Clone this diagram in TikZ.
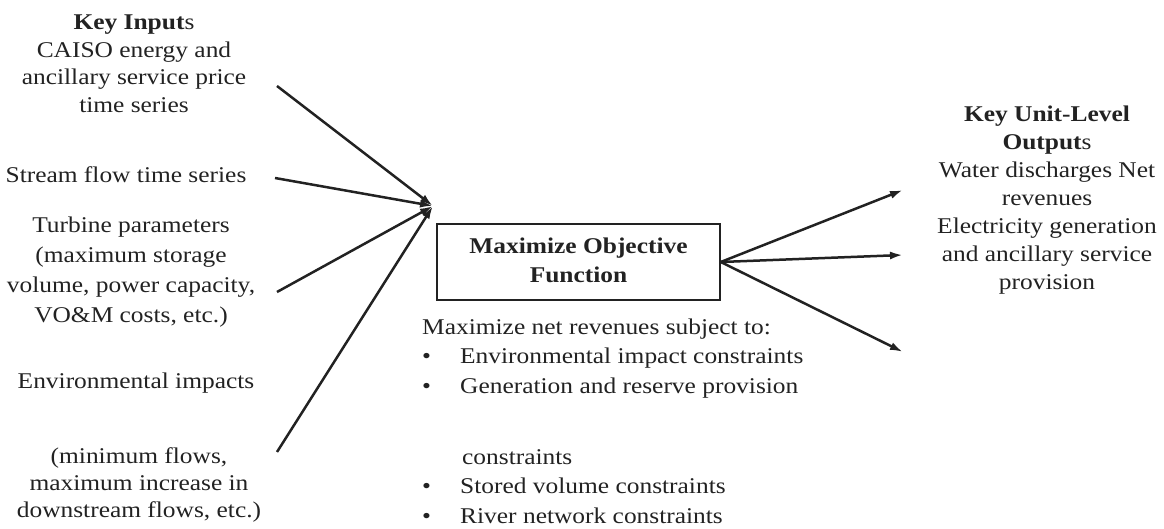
\documentclass[tikz,border=0pt]{standalone}
\usepackage{fontspec}
\setmainfont{Liberation Serif}[FakeStretch=1.13]
\usetikzlibrary{arrows.meta}
\definecolor{ink}{HTML}{222222}
\begin{document}
\begin{tikzpicture}[x=1pt,y=-1pt,
  txt/.style={inner sep=0pt, anchor=base, text=ink, font=\fontsize{22.5}{27.5}\selectfont},
  conn/.style={draw=ink, line width=2.5pt, -{Latex[length=13pt,width=8pt]}},
  objbox/.style={draw=ink, line width=1.5pt, minimum width=283pt, minimum height=76pt, inner sep=0pt, text=ink, font=\fontsize{22.5}{29}\selectfont\bfseries}
]
\useasboundingbox (0,0) rectangle (1164,529);

% left inputs
\node[txt] (inputs) at (134,30) {\begin{tabular}[t]{@{}c@{}}\textbf{Key Input}s\\CAISO energy and\\ancillary service price\\time series\end{tabular}};
\node[txt] (stream) at (126,183) {Stream flow time series};
\node[txt, font=\fontsize{22.5}{30}\selectfont] (turbine) at (131,233) {\begin{tabular}[t]{@{}c@{}}Turbine parameters\\(maximum storage\\volume, power capacity,\\VO\&M costs, etc.)\end{tabular}};
\node[txt] (env) at (136,388) {Environmental impacts};
\node[txt, font=\fontsize{22.5}{27}\selectfont] (minflow) at (139,463) {\begin{tabular}[t]{@{}c@{}}(minimum flows,\\maximum increase in\\downstream flows, etc.)\end{tabular}};

% objective box
\node[objbox] (obj) at (578.5,262) {\begin{tabular}{@{}c@{}}Maximize Objective\\Function\end{tabular}};

% constraint list
\node[txt, anchor=base west, font=\fontsize{22.5}{29.5}\selectfont] (list) at (422,334) {\begin{tabular}[t]{@{}l@{}}Maximize net revenues subject to:\\
\makebox[38pt][l]{•}Environmental impact constraints\\
\makebox[38pt][l]{•}Generation and reserve provision\\[41.5pt]
\hspace*{40pt}constraints\\
\makebox[38pt][l]{•}Stored volume constraints\\
\makebox[38pt][l]{•}River network constraints\end{tabular}};

% outputs
\node[txt, font=\fontsize{22.5}{28}\selectfont] (outputs) at (1047,122) {\begin{tabular}[t]{@{}c@{}}\textbf{Key Unit-Level}\\\textbf{Output}s\\Water discharges Net\\revenues\\Electricity generation\\and ancillary service\\provision\end{tabular}};

% connectors
\coordinate (hub) at (433,206);
\coordinate (s1) at (277,86);
\coordinate (s2) at (275,178);
\coordinate (s3) at (277,292);
\coordinate (s4) at (277,452);
\draw[conn] (s1) -- (hub);
\draw[conn] (s2) -- (hub);
\draw[conn] (s3) -- (hub);
\draw[conn] (s4) -- (hub);

\coordinate (t1) at (903,190);
\coordinate (t2) at (903,255);
\coordinate (t3) at (903,352);
\draw[conn] (obj.east) -- (t1);
\draw[conn] (obj.east) -- (t2);
\draw[conn] (obj.east) -- (t3);
\end{tikzpicture}
\end{document}
